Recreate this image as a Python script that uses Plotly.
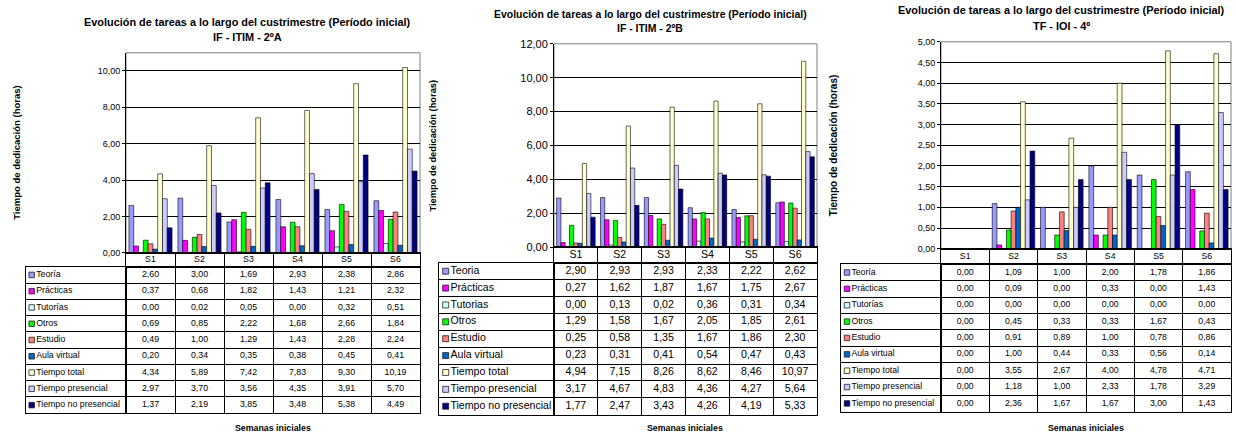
import plotly.graph_objects as go

# ---------------- data ----------------
WEEKS = ["S1", "S2", "S3", "S4", "S5", "S6"]
HEADER_ROW = ["Semana"]

NAMES_A = ["Teoría", "Prácticas", "Tutorías", "Otros", "Estudio", "Aula virtual",
           "Tiempo total", "Tiempo presencial", "Tiempo no presencial"]
NAMES_B = ["Teoria", "Prácticas", "Tutorias", "Otros", "Estudio", "Aula virtual",
           "Tiempo total", "Tiempo presencial", "Tiempo no presencial"]
NAMES_C = NAMES_A

COLORS = ["#9999FF", "#FF00FF", "#CCFFFF", "#00FF00", "#FF8080", "#0066CC",
          "#FFFFCC", "#CCCCFF", "#000080"]

# Panel A : IF - ITIM - 2ºA
A_TEORIA = [2.60, 3.00, 1.69, 2.93, 2.38, 2.86]
A_PRACTICAS = [0.37, 0.68, 1.82, 1.43, 1.21, 2.32]
A_TUTORIAS = [0.00, 0.02, 0.05, 0.00, 0.32, 0.51]
A_OTROS = [0.69, 0.85, 2.22, 1.68, 2.66, 1.84]
A_ESTUDIO = [0.49, 1.00, 1.29, 1.43, 2.28, 2.24]
A_AULA = [0.20, 0.34, 0.35, 0.38, 0.45, 0.41]
A_TOTAL = [4.34, 5.89, 7.42, 7.83, 9.30, 10.19]
A_PRES = [2.97, 3.70, 3.56, 4.35, 3.91, 5.70]
A_NOPRES = [1.37, 2.19, 3.85, 3.48, 5.38, 4.49]

# Panel B : IF - ITIM - 2ºB
B_TEORIA = [2.90, 2.93, 2.93, 2.33, 2.22, 2.62]
B_PRACTICAS = [0.27, 1.62, 1.87, 1.67, 1.75, 2.67]
B_TUTORIAS = [0.00, 0.13, 0.02, 0.36, 0.31, 0.34]
B_OTROS = [1.29, 1.58, 1.67, 2.05, 1.85, 2.61]
B_ESTUDIO = [0.25, 0.58, 1.35, 1.67, 1.86, 2.30]
B_AULA = [0.23, 0.31, 0.41, 0.54, 0.47, 0.43]
B_TOTAL = [4.94, 7.15, 8.26, 8.62, 8.46, 10.97]
B_PRES = [3.17, 4.67, 4.83, 4.36, 4.27, 5.64]
B_NOPRES = [1.77, 2.47, 3.43, 4.26, 4.19, 5.33]

# Panel C : TF - IOI - 4º
C_TEORIA = [0.00, 1.09, 1.00, 2.00, 1.78, 1.86]
C_PRACTICAS = [0.00, 0.09, 0.00, 0.33, 0.00, 1.43]
C_TUTORIAS = [0.00, 0.00, 0.00, 0.00, 0.00, 0.00]
C_OTROS = [0.00, 0.45, 0.33, 0.33, 1.67, 0.43]
C_ESTUDIO = [0.00, 0.91, 0.89, 1.00, 0.78, 0.86]
C_AULA = [0.00, 1.00, 0.44, 0.33, 0.56, 0.14]
C_TOTAL = [0.00, 3.55, 2.67, 4.00, 4.78, 4.71]
C_PRES = [0.00, 1.18, 1.00, 2.33, 1.78, 3.29]
C_NOPRES = [0.00, 2.36, 1.67, 1.67, 3.00, 1.43]

TITLE_MAIN = "Evolución de tareas a lo largo del custrimestre (Período inicial)"
SUBTITLES = ["IF - ITIM - 2ºA", "IF - ITIM - 2ºB", "TF - IOI - 4º"]
Y_TITLE = "Tiempo de dedicación (horas)"
X_TITLE = "Semanas iniciales"

SERIES_A = [A_TEORIA, A_PRACTICAS, A_TUTORIAS, A_OTROS, A_ESTUDIO, A_AULA, A_TOTAL, A_PRES, A_NOPRES]
SERIES_B = [B_TEORIA, B_PRACTICAS, B_TUTORIAS, B_OTROS, B_ESTUDIO, B_AULA, B_TOTAL, B_PRES, B_NOPRES]
SERIES_C = [C_TEORIA, C_PRACTICAS, C_TUTORIAS, C_OTROS, C_ESTUDIO, C_AULA, C_TOTAL, C_PRES, C_NOPRES]

# ---------------- layout geometry (pixels) ----------------
W, H = 1236, 435
FONT = "Liberation Sans, Arial, sans-serif"
# empirical vertical correction of the photographed page
Y_OFF, Y_SCALE = 6.4, 0.968


def fx(p):
    return p / W


def fy(p):
    q = (p - Y_OFF) / Y_SCALE
    return min(1.0, max(0.0, 1 - q / H))


PANELS = [
    dict(names=NAMES_A, series=SERIES_A, sub=SUBTITLES[0],
         plot=(126, 420, 53, 252), ymax=11, dtick=2,
         lab_left=26, hdr_h=14, row_h=16.2,
         title_x=247, title_y=(22, 37), title_fs=10.9,
         ytitle_x=17, ytitle_fs=9.5, xtitle=(273, 426),
         fs_table=8.8, fs_tick=9, sw=5.5, sw_off=5.7),
    dict(names=NAMES_B, series=SERIES_B, sub=SUBTITLES[1],
         plot=(554, 817, 44, 246.5), ymax=12, dtick=2,
         lab_left=439, hdr_h=15.5, row_h=16.8,
         title_x=650, title_y=(15, 28.5), title_fs=10.45,
         ytitle_x=433, ytitle_fs=9.3, xtitle=(685, 426),
         fs_table=10.6, fs_tick=11, sw=6, sw_off=6.7),
    dict(names=NAMES_C, series=SERIES_C, sub=SUBTITLES[2],
         plot=(941, 1231, 42, 248), ymax=5, dtick=0.5,
         lab_left=841, hdr_h=15.5, row_h=16.3,
         title_x=1061, title_y=(10.5, 26), title_fs=10.9,
         ytitle_x=833, ytitle_fs=10, xtitle=(1086, 426),
         fs_table=8.7, fs_tick=9, sw=5.5, sw_off=6),
]


def fmt(v):
    return f"{v:.2f}".replace(".", ",")


def ax_name(k):
    return ("x" if k == 1 else f"x{k}"), ("y" if k == 1 else f"y{k}")


def ax_key(letter, k):
    return f"{letter}axis" if k == 1 else f"{letter}axis{k}"


GRID = dict(showgrid=True, gridcolor="black", gridwidth=1, tickson="boundaries",
            showticklabels=False, ticks="", zeroline=False,
            showline=True, mirror=True, linecolor="black", linewidth=1)
BORDER = dict(showgrid=False, showticklabels=False, ticks="", zeroline=False,
              showline=True, mirror=True, linecolor="black", linewidth=1)

fig = go.Figure()
layout = dict(
    width=W, height=H, autosize=False,
    margin=dict(l=0, r=0, t=0, b=0, pad=0),
    paper_bgcolor="white", plot_bgcolor="rgba(0,0,0,0)",
    separators=",.",
    barmode="group", bargap=0.12, bargroupgap=0,
    showlegend=False,
    font=dict(family=FONT, color="black"),
)
annotations = []
shapes = []

for i, p in enumerate(PANELS):
    n = i + 1
    xa, ya = ax_name(n)
    l, r, t, b = p["plot"]
    tfont = dict(family=FONT, size=p["fs_table"], color="black")
    lab_w = l - p["lab_left"]
    rows_top = b + p["hdr_h"]
    rows_bot = rows_top + 9 * p["row_h"]

    # ---- bars ----
    for name, vals, col in zip(p["names"], p["series"], COLORS):
        fig.add_trace(go.Bar(
            x=WEEKS, y=vals, name=name, xaxis=xa, yaxis=ya,
            marker=dict(color=col, line=dict(color="rgba(0,0,0,0.85)", width=0.7)),
            offsetgroup=name,
        ))
    layout[ax_key("x", n)] = dict(
        domain=[fx(l), fx(r)], anchor=ya, type="category",
        categoryorder="array", categoryarray=WEEKS, range=[-0.5, 5.5],
        showticklabels=False, ticks="", showgrid=False,
        showline=True, linecolor="black", linewidth=1, zeroline=False,
    )
    layout[ax_key("y", n)] = dict(
        domain=[fy(b), fy(t)], anchor=xa, range=[0, p["ymax"]], dtick=p["dtick"],
        tickformat=".2f", tickfont=dict(size=p["fs_tick"], family=FONT, color="black"),
        showgrid=True, gridcolor="black", gridwidth=1,
        showline=True, linecolor="black", linewidth=1,
        ticks="outside", ticklen=3, tickcolor="black", zeroline=False,
    )
    shapes.append(dict(type="rect", xref=f"{xa} domain", yref=f"{ya} domain",
                       x0=0, x1=1, y0=0, y1=1, line=dict(color="#808080", width=1),
                       layer="below"))

    # ---- data table: header row (week labels) ----
    hn = n + 9
    hxa, hya = ax_name(hn)
    fig.add_trace(go.Scatter(
        x=WEEKS, y=HEADER_ROW * len(WEEKS), text=WEEKS, mode="text",
        textposition="middle center", textfont=tfont,
        xaxis=hxa, yaxis=hya, cliponaxis=False, hoverinfo="skip",
    ))
    layout[ax_key("x", hn)] = dict(domain=[fx(l), fx(r)], anchor=hya, type="category",
                                   categoryorder="array", categoryarray=WEEKS,
                                   range=[-0.5, 5.5], **GRID)
    layout[ax_key("y", hn)] = dict(domain=[fy(rows_top), fy(b)], anchor=hxa,
                                   type="category", categoryarray=HEADER_ROW,
                                   range=[-0.5, 0.5], **BORDER)

    # ---- data table: label column (swatch + series name) ----
    sn = n + 3
    sxa, sya = ax_name(sn)
    fig.add_trace(go.Scatter(
        x=[0] * 9, y=p["names"], text=p["names"], mode="markers+text",
        textposition="middle right", textfont=tfont,
        xaxis=sxa, yaxis=sya, cliponaxis=False,
        marker=dict(symbol="square", size=p["sw"], color=COLORS,
                    line=dict(color="#222222", width=0.8)),
        hoverinfo="skip",
    ))
    layout[ax_key("x", sn)] = dict(domain=[fx(p["lab_left"]), fx(l)], anchor=sya,
                                   range=[-p["sw_off"], lab_w - p["sw_off"]], **BORDER)
    layout[ax_key("y", sn)] = dict(domain=[fy(rows_bot), fy(rows_top)], anchor=sxa,
                                   type="category", categoryorder="array",
                                   categoryarray=p["names"], range=[8.5, -0.5], **GRID)

    # ---- data table: value cells ----
    vn = n + 6
    vxa, vya = ax_name(vn)
    for name, vals in zip(p["names"], p["series"]):
        fig.add_trace(go.Scatter(
            x=WEEKS, y=[name] * len(WEEKS), text=[fmt(v) for v in vals],
            mode="text", textposition="middle center", textfont=tfont,
            xaxis=vxa, yaxis=vya, cliponaxis=False, hoverinfo="skip",
        ))
    layout[ax_key("x", vn)] = dict(domain=[fx(l), fx(r)], anchor=vya, type="category",
                                   categoryorder="array", categoryarray=WEEKS,
                                   range=[-0.5, 5.5], **GRID)
    layout[ax_key("y", vn)] = dict(domain=[fy(rows_bot), fy(rows_top)], anchor=vxa,
                                   type="category", categoryorder="array",
                                   categoryarray=p["names"], range=[8.5, -0.5], **GRID)

    # ---- titles ----
    def bold(s):
        return dict(family=FONT, size=s, weight="bold", color="black")

    annotations.append(dict(text=TITLE_MAIN, x=fx(p["title_x"]), y=fy(p["title_y"][0]),
                            xref="paper", yref="paper", showarrow=False,
                            xanchor="center", yanchor="middle", font=bold(p["title_fs"])))
    annotations.append(dict(text=p["sub"], x=fx(p["title_x"]), y=fy(p["title_y"][1]),
                            xref="paper", yref="paper", showarrow=False,
                            xanchor="center", yanchor="middle", font=bold(p["title_fs"])))
    annotations.append(dict(text=Y_TITLE, x=fx(p["ytitle_x"]), y=fy((t + b) / 2),
                            xref="paper", yref="paper", showarrow=False, textangle=-90,
                            xanchor="center", yanchor="middle", font=bold(p["ytitle_fs"])))
    annotations.append(dict(text=X_TITLE, x=fx(p["xtitle"][0]), y=fy(p["xtitle"][1]),
                            xref="paper", yref="paper", showarrow=False,
                            xanchor="center", yanchor="middle", font=bold(8.8)))

layout["annotations"] = annotations
layout["shapes"] = shapes
fig.update_layout(**layout)

POST = (
    "document.body.style.margin='0';"
    "document.body.style.padding='0';"
    "document.documentElement.style.overflow='hidden';"
)
fig.write_html("out.html", config={"displayModeBar": False}, post_script=POST)
